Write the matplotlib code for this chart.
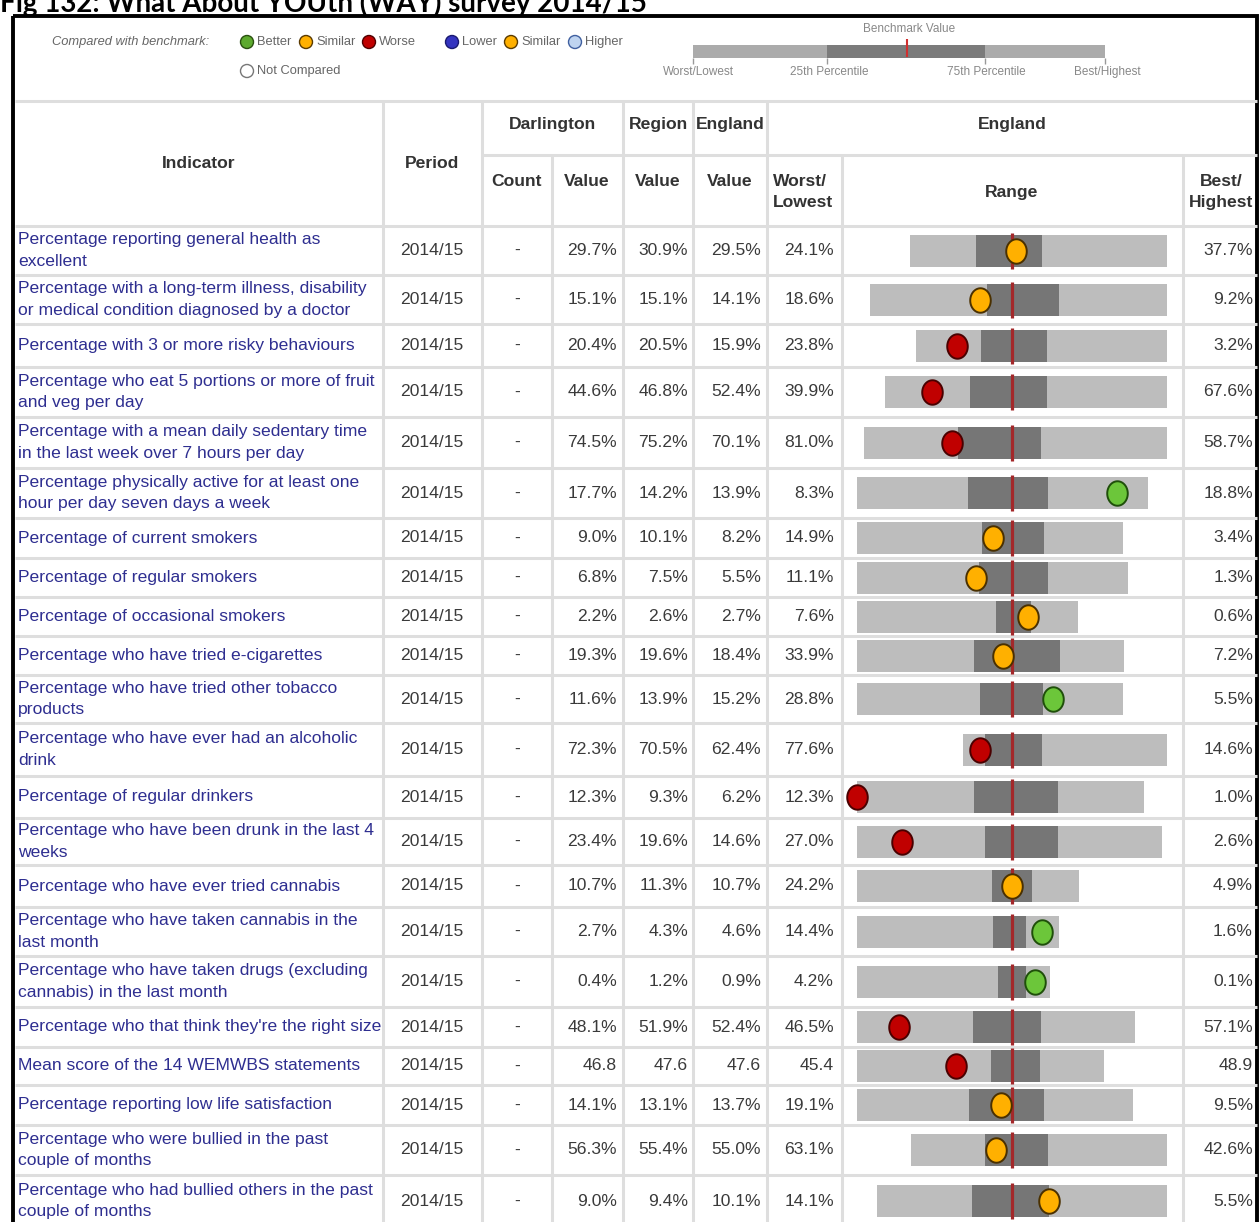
import numpy as np
import matplotlib.pyplot as plt
from matplotlib.patches import Rectangle, Circle
from matplotlib.path import Path

plt.rcParams['font.family'] = ['Liberation Sans', 'DejaVu Sans']

indicators = [
    "Percentage reporting general health as\nexcellent",
    "Percentage with a long-term illness, disability\nor medical condition diagnosed by a doctor",
    "Percentage with 3 or more risky behaviours",
    "Percentage who eat 5 portions or more of fruit\nand veg per day",
    "Percentage with a mean daily sedentary time\nin the last week over 7 hours per day",
    "Percentage physically active for at least one\nhour per day seven days a week",
    "Percentage of current smokers",
    "Percentage of regular smokers",
    "Percentage of occasional smokers",
    "Percentage who have tried e-cigarettes",
    "Percentage who have tried other tobacco\nproducts",
    "Percentage who have ever had an alcoholic\ndrink",
    "Percentage of regular drinkers",
    "Percentage who have been drunk in the last 4\nweeks",
    "Percentage who have ever tried cannabis",
    "Percentage who have taken cannabis in the\nlast month",
    "Percentage who have taken drugs (excluding\ncannabis) in the last month",
    "Percentage who that think they're the right size",
    "Mean score of the 14 WEMWBS statements",
    "Percentage reporting low life satisfaction",
    "Percentage who were bullied in the past\ncouple of months",
    "Percentage who had bullied others in the past\ncouple of months",
]
period = "2014/15"
darlington = [29.7, 15.1, 20.4, 44.6, 74.5, 17.7, 9.0, 6.8, 2.2, 19.3, 11.6,
              72.3, 12.3, 23.4, 10.7, 2.7, 0.4, 48.1, 46.8, 14.1, 56.3, 9.0]
region = [30.9, 15.1, 20.5, 46.8, 75.2, 14.2, 10.1, 7.5, 2.6, 19.6, 13.9,
          70.5, 9.3, 19.6, 11.3, 4.3, 1.2, 51.9, 47.6, 13.1, 55.4, 9.4]
england = [29.5, 14.1, 15.9, 52.4, 70.1, 13.9, 8.2, 5.5, 2.7, 18.4, 15.2,
           62.4, 6.2, 14.6, 10.7, 4.6, 0.9, 52.4, 47.6, 13.7, 55.0, 10.1]
worst = [24.1, 18.6, 23.8, 39.9, 81.0, 8.3, 14.9, 11.1, 7.6, 33.9, 28.8,
         77.6, 12.3, 27.0, 24.2, 14.4, 4.2, 46.5, 45.4, 19.1, 63.1, 14.1]
best = [37.7, 9.2, 3.2, 67.6, 58.7, 18.8, 3.4, 1.3, 0.6, 7.2, 5.5,
        14.6, 1.0, 2.6, 4.9, 1.6, 0.1, 57.1, 48.9, 9.5, 42.6, 5.5]
# (25th percentile = worse side)
p25 = [27.6, 14.9, 18.4, 48.3, 74.1, 12.3, 9.5, 6.7, 3.2, 22.2, 18.0,
       70.7, 7.7, 16.8, 12.4, 5.8, 1.2, 50.9, 47.3, 15.2, 57.2, 11.3]
p75 = [31.1, 12.6, 13.0, 55.8, 68.0, 15.2, 6.8, 4.2, 2.1, 13.6, 12.5,
       53.2, 4.4, 10.9, 9.0, 3.7, 0.6, 53.5, 48.0, 12.6, 52.1, 9.0]
compare = ['similar', 'similar', 'worse', 'worse', 'worse', 'better', 'similar',
           'similar', 'similar', 'similar', 'better', 'worse', 'worse', 'worse',
           'similar', 'better', 'better', 'worse', 'worse', 'similar', 'similar',
           'similar']
percent = [True] * 18 + [False] + [True] * 3

face = {'better': '#6CC63A', 'similar': '#FFB000', 'worse': '#C00000'}
edge = {'better': '#1F4F0A', 'similar': '#4A3000', 'worse': '#4A0000'}

W, H = 1260, 1222
fig = plt.figure(figsize=(W / 100, H / 100), dpi=100)
ax = fig.add_axes([0, 0, 1, 1])
ax.set_xlim(0, W)
ax.set_ylim(H, 0)
ax.axis('off')

row_edges = [226, 275, 324, 367, 417, 468, 518, 558, 597, 636, 675, 723, 776,
             818, 865, 907, 956, 1007, 1047, 1085, 1125, 1175, 1227]
grid = '#DEDEDE'
glw = 2.2

# title (cut at the top of the picture, as in the source)
ax.text(0, 12, "Fig 132: What About YOUth (WAY) survey 2014/15", fontsize=20,
        fontweight='bold', family=['Lato', 'DejaVu Sans'], va='baseline', ha='left')

# table grid
ax.hlines([101] + row_edges, 15, 1257, color=grid, lw=glw)
ax.hlines(155, 482, 1257, color=grid, lw=glw)
ax.vlines([383, 482, 623, 693, 767], 101, 1227, color=grid, lw=glw)
ax.vlines([552, 842, 1183], 155, 1227, color=grid, lw=glw)

# black frame
ax.add_patch(Rectangle((13, 16), 1244, 1220, fill=False, ec='black', lw=2.8))

# legend
lc = '#666666'
ax.text(52, 42, "Compared with benchmark:", fontsize=9.3, style='italic', color=lc, va='center')
items = [(247, 42, '#5DAA2E', '#2A5010', 'Better'), (306, 42, '#FFB000', '#5A3A00', 'Similar'),
         (369, 42, '#C00000', '#500000', 'Worse'), (452, 42, '#3434C0', '#1A1A70', 'Lower'),
         (511, 42, '#FFB000', '#5A3A00', 'Similar'), (575, 42, '#BFD4F0', '#4060A0', 'Higher'),
         (247, 71, 'white', '#777777', 'Not Compared')]
for x, y, fc, ec, lab in items:
    ax.add_patch(Circle((x, y), 6.5, fc=fc, ec=ec, lw=1.0))
    ax.text(x + 10, y, lab, fontsize=9.3, color=lc, va='center')

ax.add_patch(Rectangle((693, 45), 412, 13, fc='#ABABAB', ec='none'))
ax.add_patch(Rectangle((827, 45), 158, 13, fc='#7B7B7B', ec='none'))
ax.vlines(907, 39, 57, color='#D03030', lw=1.5)
ax.vlines([693, 827, 985, 1105], 58, 64, color='#999999', lw=1)
nf = ['Liberation Sans Narrow', 'Liberation Sans']
ax.text(909, 29, "Benchmark Value", fontsize=8.5, color='#888888', ha='center', va='center', family=nf)
for x, lab in [(698, "Worst/Lowest"), (829, "25th Percentile"), (986, "75th Percentile"), (1107, "Best/Highest")]:
    ax.text(x, 72, lab, fontsize=8.5, color='#888888', ha='center', va='center', family=nf)

# header
hc = '#333333'
fs = 12.6
ls = 1.55
hdr = dict(fontsize=fs, fontweight='bold', color=hc, ha='center', va='center')
ax.text(199, 163, "Indicator", **hdr)
ax.text(432, 163, "Period", **hdr)
ax.text(552, 124, "Darlington", **hdr)
ax.text(658, 124, "Region", **hdr)
ax.text(730, 124, "England", **hdr)
ax.text(1012, 124, "England", **hdr)
ax.text(517, 181, "Count", **hdr)
ax.text(587, 181, "Value", **hdr)
ax.text(658, 181, "Value", **hdr)
ax.text(730, 181, "Value", **hdr)
ax.text(773, 192, "Worst/\nLowest", fontsize=fs, fontweight='bold', color=hc,
        ha='left', va='center', linespacing=ls)
ax.text(1012, 192, "Range", **hdr)
ax.text(1221, 192, "Best/\nHighest", fontsize=fs, fontweight='bold', color=hc,
        ha='center', va='center', linespacing=ls)

# ellipse marker
t = np.linspace(0, 2 * np.pi, 60)
ell = Path(np.column_stack([0.84 * np.cos(t), np.sin(t)]), closed=True)


def fmt(v, pct):
    return f"{v:.1f}%" if pct else f"{v:.1f}"


tc = '#3A3A3A'
half = 155
for i in range(len(indicators)):
    top, bot = row_edges[i], row_edges[i + 1]
    yc = (top + bot) / 2
    ax.text(18, yc, indicators[i], fontsize=fs, color='#2E2E90', va='center',
            ha='left', linespacing=ls)
    ax.text(432, yc, period, fontsize=fs, color=tc, ha='center', va='center')
    ax.text(517, yc, "-", fontsize=fs, color=tc, ha='center', va='center')
    ax.text(617, yc, fmt(darlington[i], percent[i]), fontsize=fs, color=tc, ha='right', va='center')
    ax.text(688, yc, fmt(region[i], percent[i]), fontsize=fs, color=tc, ha='right', va='center')
    ax.text(761, yc, fmt(england[i], percent[i]), fontsize=fs, color=tc, ha='right', va='center')
    ax.text(834, yc, fmt(worst[i], percent[i]), fontsize=fs, color=tc, ha='right', va='center')
    ax.text(1253, yc, fmt(best[i], percent[i]), fontsize=fs, color=tc, ha='right', va='center')

    # spine chart for the row, centred on England value
    e = england[i]
    s = max(abs(e - worst[i]), abs(e - best[i]))
    h = bot - top
    sax = fig.add_axes([(1012 - half) / W, 1 - bot / H, 2 * half / W, h / H])
    sax.axis('off')
    sax.set_ylim(-h / 2, h / 2)
    if best[i] > worst[i]:
        sax.set_xlim(e - s, e + s)
    else:
        sax.set_xlim(e + s, e - s)
    lo, hi = min(worst[i], best[i]), max(worst[i], best[i])
    sax.barh(0, hi - lo, left=lo, height=32, color='#BDBDBD')
    qlo, qhi = min(p25[i], p75[i]), max(p25[i], p75[i])
    sax.barh(0, qhi - qlo, left=qlo, height=32, color='#767676')
    sax.vlines(e, -18, 18, color='#A3282A', lw=2.3)
    sax.scatter([darlington[i]], [0], marker=ell, s=310, c=face[compare[i]],
                edgecolors=edge[compare[i]], linewidths=1.4, zorder=5, clip_on=False)

fig.savefig("out.png", dpi=100)
